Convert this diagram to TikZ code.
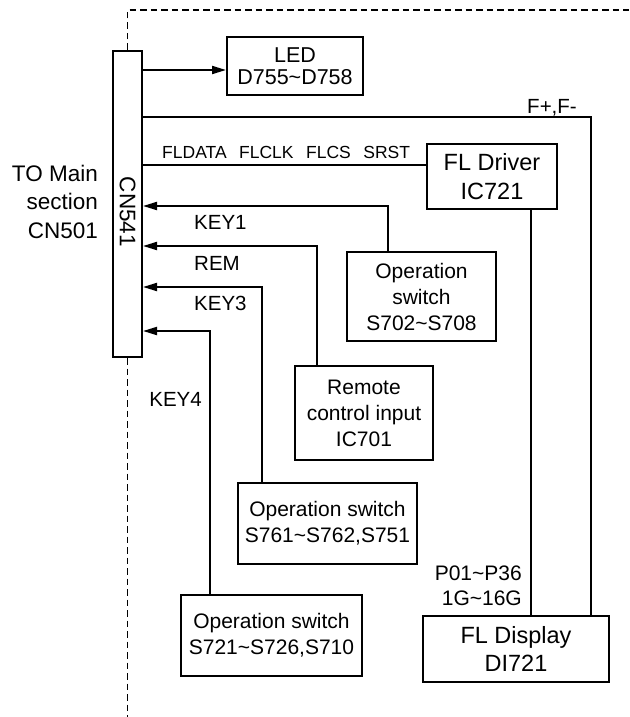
\documentclass[tikz,border=0pt]{standalone}
\usepackage{fontspec}
\setmainfont{Liberation Sans}
\usetikzlibrary{arrows.meta}
\begin{document}
\begin{tikzpicture}[x=1pt,y=-1pt,
  box/.style={draw,line width=2pt,inner sep=0pt,align=center,font=\fontsize{21}{26}\selectfont},
  wire/.style={line width=2pt},
  arr/.style={wire,-{Triangle[length=14pt,width=8pt]}},
  lbl/.style={inner sep=0pt,font=\fontsize{20.5}{26}\selectfont},
  bound/.style={line width=1.8pt,dash pattern=on 6.5pt off 4pt}]
\useasboundingbox (0,0) rectangle (629,717);

% boxes
\node[box,minimum width=29pt,minimum height=306pt] (cn) at (127.5,204) {};
\node[lbl,rotate=-90,font=\fontsize{22.5}{26}\selectfont] (cnlab) at (127.5,212) {CN541};
\node[lbl,anchor=east,align=right,font=\fontsize{22.5}{28.5}\selectfont] (main) at (98,201.5) {TO Main\\section\\CN501};
\node[box,minimum width=136pt,minimum height=58pt,font=\fontsize{21.5}{22.5}\selectfont] (led) at (295,66) {LED\\D755\textasciitilde D758};
\node[box,minimum width=130pt,minimum height=65pt,font=\fontsize{23.5}{28.5}\selectfont] (drv) at (492,176.5) {FL Driver\\IC721};
\node[box,minimum width=149pt,minimum height=89pt] (sw1) at (421.5,296.5) {Operation\\switch\\S702\textasciitilde S708};
\node[box,minimum width=138pt,minimum height=94pt] (rem) at (364,413) {Remote\\control input\\IC701};
\node[box,minimum width=179pt,minimum height=81pt] (sw2) at (327.5,523.5) {Operation switch\\S761\textasciitilde S762,S751};
\node[box,minimum width=181pt,minimum height=81pt] (sw3) at (271.5,635.5) {Operation switch\\S721\textasciitilde S726,S710};
\node[box,minimum width=186pt,minimum height=66pt,font=\fontsize{23.5}{28}\selectfont] (disp) at (516,649) {FL Display\\DI721};

% helper coordinates
\coordinate (yLED) at (0,70);
\coordinate (yF) at (0,117);
\coordinate (xF) at (591,0);
\coordinate (yFD) at (0,165);
\coordinate (xD) at (531,0);
\coordinate (xK1) at (388,0); \coordinate (yK1) at (0,206);
\coordinate (xR) at (317,0);  \coordinate (yR) at (0,246);
\coordinate (xK3) at (262,0); \coordinate (yK3) at (0,287);
\coordinate (xK4) at (210,0); \coordinate (yK4) at (0,331);
\coordinate (tl) at (127.5,10);
\coordinate (tr) at (629,10);
\coordinate (bl) at (127.5,717);

% connectors
\draw[arr] (cn.east |- yLED) -- (led.west |- yLED);
\draw[wire] (cn.east |- yF) -| (xF |- disp.north);
\draw[wire] (cn.east |- yFD) -- (drv.west |- yFD);
\draw[wire] (xD |- drv.south) -- (xD |- disp.north);
\draw[arr] (xK1 |- sw1.north) |- (cn.east |- yK1);
\draw[arr] (xR |- rem.north) |- (cn.east |- yR);
\draw[arr] (xK3 |- sw2.north) |- (cn.east |- yK3);
\draw[arr] (xK4 |- sw3.north) |- (cn.east |- yK4);

% boundary
\draw[bound] (cn.north) -- (tl) -- (tr);
\draw[bound] (cn.south) -- (bl);

% labels
\node[lbl,anchor=base west,font=\fontsize{17.5}{20}\selectfont] (bus) at (162,158) {FLDATA\hspace{12.5pt}FLCLK\hspace{12.5pt}FLCS\hspace{12.5pt}SRST};
\node[lbl] (fpm) at (552,108) {F+,F-};
\node[lbl,anchor=west] (k1) at (194,222.5) {KEY1};
\node[lbl,anchor=west] (rl) at (194,263) {REM};
\node[lbl,anchor=west] (k3) at (194,303) {KEY3};
\node[lbl,anchor=east] (k4) at (202,399) {KEY4};
\node[lbl,anchor=east,align=right,font=\fontsize{21}{25}\selectfont] (pl) at (522,586) {P01\textasciitilde P36\\1G\textasciitilde 16G};
\end{tikzpicture}
\end{document}
